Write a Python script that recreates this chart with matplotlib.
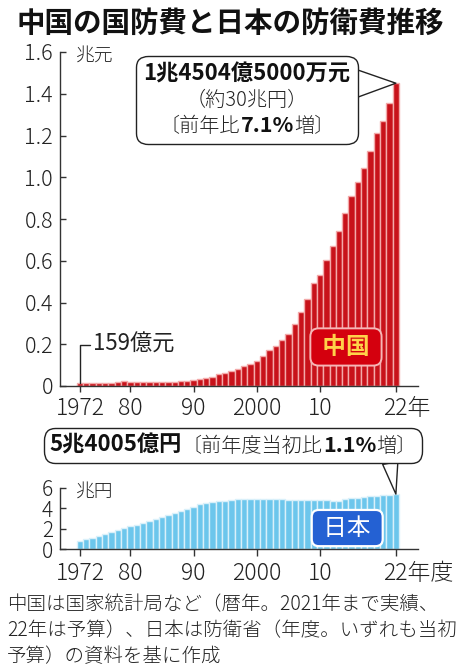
import matplotlib
matplotlib.use('Agg')
import matplotlib.pyplot as plt
from matplotlib.offsetbox import TextArea, HPacker, VPacker, AnnotationBbox
from matplotlib.transforms import ScaledTranslation

plt.rcParams['font.family'] = ['Noto Sans CJK JP', 'DejaVu Sans']

# ---------------- data ----------------
years = list(range(1972, 2023))

# China national defense spending (兆元, calendar year)
china_defense = [
    0.0159, 0.0145, 0.0133, 0.0142, 0.0134, 0.0149, 0.0168, 0.0223, 0.0194, 0.0168,
    0.0176, 0.0177, 0.0181, 0.0191, 0.0201, 0.0210, 0.0218, 0.0251, 0.0290, 0.0330,
    0.0378, 0.0426, 0.0551, 0.0637, 0.0720, 0.0813, 0.0935, 0.1076, 0.1208, 0.1442,
    0.1708, 0.1908, 0.2200, 0.2475, 0.2979, 0.3555, 0.4179, 0.4951, 0.5333, 0.6028,
    0.6692, 0.7411, 0.8289, 0.9088, 0.9766, 1.0432, 1.1280, 1.2122, 1.2680, 1.3553,
    1.4505,
]

# Japan defense budget (兆円, fiscal year, initial budget)
japan_defense = [
    0.8002, 0.9355, 1.0930, 1.3273, 1.5124, 1.6906, 1.9010, 2.0945, 2.2302, 2.4000,
    2.5861, 2.7542, 2.9346, 3.1371, 3.3435, 3.5174, 3.7003, 3.9198, 4.1593, 4.3860,
    4.5518, 4.6406, 4.6835, 4.7236, 4.8455, 4.9475, 4.9397, 4.9322, 4.9358, 4.9553,
    4.9560, 4.9530, 4.8764, 4.8301, 4.7906, 4.7818, 4.7796, 4.7741, 4.7903, 4.7752,
    4.7138, 4.7538, 4.8848, 4.9801, 5.0541, 5.1251, 5.1911, 5.2574, 5.3133, 5.3422,
    5.4005,
]

xticks = [1972, 1980, 1990, 2000, 2010, 2022]
china_xticklabels = ['1972', '80', '90', '2000', '10', '22年']
japan_xticklabels = ['1972', '80', '90', '2000', '10', '22年度']
china_yticks = [0, 0.2, 0.4, 0.6, 0.8, 1.0, 1.2, 1.4, 1.6]
china_yticklabels = ['0', '0.2', '0.4', '0.6', '0.8', '1.0', '1.2', '1.4', '1.6']
japan_yticks = [0, 2, 4, 6]
japan_yticklabels = ['0', '2', '4', '6']

title = '中国の国防費と日本の防衛費推移'
china_unit = '兆元'
japan_unit = '兆円'
china_first_label = '159億元'
china_name = ' 中国 '
japan_name = ' 日本 '
china_callout = ['1兆4504億5000万元', '（約30兆円）', '〔前年比', '7.1%', '増〕']
japan_callout = ['5兆4005億円', '〔前年度当初比', '1.1%', '増〕']
footer = [
    '中国は国家統計局など（暦年。2021年まで実績、',
    '22年は予算）、日本は防衛省（年度。いずれも当初',
    '予算）の資料を基に作成',
]

# ---------------- style ----------------
RED = '#c8121a'
RED_GAP = '#f3a9a9'
BLUE = '#6cc6ec'
BLUE_GAP = '#d9f0fa'
INK = '#222222'
AXC = '#333333'
LIGHT = 'light'

W, H = 458, 669
fig = plt.figure(figsize=(W / 100, H / 100), dpi=100)
fig.patch.set_facecolor('white')
XLIM = (1968.85, 2025.5)


def base_style(ax, ymax):
    for s in ['top', 'right']:
        ax.spines[s].set_visible(False)
    for s in ['left', 'bottom']:
        ax.spines[s].set_color(AXC)
        ax.spines[s].set_linewidth(1.0)
    ax.set_xlim(*XLIM)
    ax.set_ylim(0, ymax)
    ax.set_facecolor('none')


def lighten_ticklabels(ax):
    for t in ax.get_xticklabels() + ax.get_yticklabels():
        t.set_fontweight(LIGHT)


# ---------------- title ----------------
fig.text(230 / W, 1 - 24 / H, title, ha='center', va='center',
         fontsize=20.5, fontweight='bold', color='#111111')

# ---------------- China chart ----------------
ax1 = fig.add_axes([60 / W, 1 - 386 / H, 358 / W, 334 / H])
base_style(ax1, 1.6)
ax1.bar(years, china_defense, width=1.0, color=RED, edgecolor=RED_GAP,
        linewidth=1.0, zorder=2)
ax1.set_yticks(china_yticks, china_yticklabels)
ax1.set_xticks(xticks, china_xticklabels)
ax1.tick_params(axis='y', direction='in', length=4.5, width=1.0, pad=5,
                labelsize=15.5, color=AXC, labelcolor=INK)
ax1.tick_params(axis='x', direction='out', length=4.5, width=1.0, pad=2.5,
                labelsize=16.5, color=AXC, labelcolor=INK)
lighten_ticklabels(ax1)
lt = ax1.xaxis.get_major_ticks()[-1].label1
lt.set_transform(lt.get_transform() + ScaledTranslation(0.11, 0, fig.dpi_scale_trans))

fig.text(76 / W, 1 - 56 / H, china_unit, ha='left', va='center',
         fontsize=13.5, color=INK, fontweight=LIGHT)

ax1.annotate(china_first_label, xy=(years[0], china_defense[0]),
             xytext=(1974.0, 0.198), textcoords='data', ha='left', va='center',
             fontsize=16, color=INK,
             arrowprops=dict(arrowstyle='-', color=INK, lw=1.0,
                             connectionstyle='angle,angleA=0,angleB=90,rad=0',
                             shrinkA=0, shrinkB=0))

ax1.text(2014.1, 0.187, china_name, ha='center', va='center', fontsize=17,
         fontweight='bold', color='#ffd24a', zorder=5,
         bbox=dict(boxstyle='round,pad=0.28,rounding_size=0.35',
                   fc='#d4000e', ec='#f6b6b6', lw=1.4))

tp_big = dict(fontsize=16, fontweight='bold', color='#111111')
tp_reg = dict(fontsize=14.5, color=INK, fontweight=LIGHT)
tp_b2 = dict(fontsize=15.5, fontweight='bold', color='#111111')

c_line1 = TextArea(china_callout[0], textprops=tp_big)
c_line2 = TextArea(china_callout[1], textprops=tp_reg)
c_line3 = HPacker(children=[TextArea(china_callout[2], textprops=tp_reg),
                            TextArea(china_callout[3], textprops=tp_b2),
                            TextArea(china_callout[4], textprops=tp_reg)],
                  align='baseline', pad=0, sep=0)
c_box = VPacker(children=[c_line1, c_line2, c_line3], align='center', pad=0, sep=3)
ab1 = AnnotationBbox(c_box, xy=(years[-1], china_defense[-1]), xycoords='data',
                     xybox=(247, H - 100), boxcoords='figure pixels',
                     box_alignment=(0.5, 0.5), frameon=True,
                     bboxprops=dict(boxstyle='round,pad=0.5,rounding_size=0.8',
                                    fc='white', ec=INK, lw=1.0),
                     arrowprops=dict(arrowstyle='wedge,tail_width=1.4,shrink_factor=0.5',
                                     fc='white', ec=INK, lw=1.0,
                                     relpos=(0.97, 0.72), shrinkA=0, shrinkB=0),
                     annotation_clip=False, zorder=6)
ax1.add_artist(ab1)

# ---------------- Japan chart ----------------
ax2 = fig.add_axes([60 / W, 1 - 549 / H, 358 / W, 61 / H])
base_style(ax2, 6)
ax2.bar(years, japan_defense, width=1.0, color=BLUE, edgecolor=BLUE_GAP,
        linewidth=1.0, zorder=2)
ax2.set_yticks(japan_yticks, japan_yticklabels)
ax2.set_xticks(xticks, japan_xticklabels)
ax2.tick_params(axis='y', direction='in', length=4.5, width=1.0, pad=5,
                labelsize=15, color=AXC, labelcolor=INK)
ax2.tick_params(axis='x', direction='out', length=5, width=1.0, pad=4,
                labelsize=16.5, color=AXC, labelcolor=INK)
lighten_ticklabels(ax2)
lt2 = ax2.xaxis.get_major_ticks()[-1].label1
lt2.set_transform(lt2.get_transform() + ScaledTranslation(0.22, 0, fig.dpi_scale_trans))

fig.text(76 / W, 1 - 492 / H, japan_unit, ha='left', va='center',
         fontsize=13.5, color=INK, fontweight=LIGHT)

ax2.text(2014.3, 2.06, japan_name, ha='center', va='center', fontsize=17,
         color='white', zorder=5,
         bbox=dict(boxstyle='round,pad=0.28,rounding_size=0.3',
                   fc='#2461d3', ec='white', lw=1.6))

j_line = HPacker(children=[TextArea(japan_callout[0], textprops=tp_big),
                           TextArea(japan_callout[1], textprops=tp_reg),
                           TextArea(japan_callout[2], textprops=tp_b2),
                           TextArea(japan_callout[3], textprops=tp_reg)],
                 align='baseline', pad=0, sep=0)
ab2 = AnnotationBbox(j_line, xy=(years[-1], japan_defense[-1]), xycoords='data',
                     xybox=(233, H - 445.5), boxcoords='figure pixels',
                     box_alignment=(0.5, 0.5), frameon=True,
                     bboxprops=dict(boxstyle='round,pad=0.4,rounding_size=0.8',
                                    fc='white', ec=INK, lw=1.0),
                     arrowprops=dict(arrowstyle='wedge,tail_width=0.8,shrink_factor=0.5',
                                     fc='white', ec=INK, lw=1.0,
                                     relpos=(0.92, 0.5), shrinkA=0, shrinkB=0),
                     annotation_clip=False, zorder=6)
ax2.add_artist(ab2)

# ---------------- footer ----------------
for line, yc in zip(footer, [605, 631, 657]):
    fig.text(7 / W, 1 - yc / H, line, ha='left', va='center', fontsize=14,
             color=INK, fontweight=LIGHT)

fig.savefig('out.png', dpi=100, facecolor='white')
